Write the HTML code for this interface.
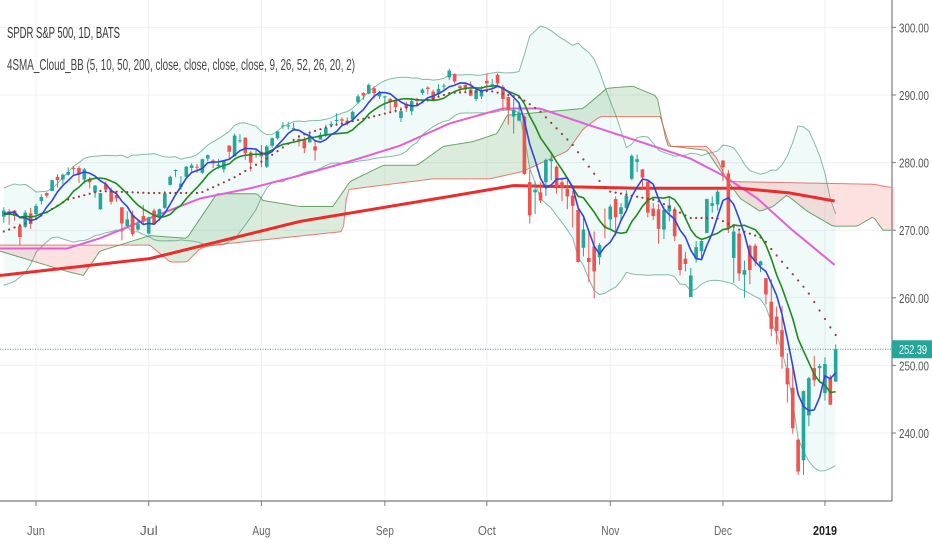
<!DOCTYPE html>
<html><head><meta charset="utf-8"><title>SPY 4SMA Cloud BB</title>
<style>
html,body{margin:0;padding:0;background:#fff;}
svg{display:block;font-family:"Liberation Sans",sans-serif;}
</style></head>
<body>
<svg id="chart" width="932" height="550" viewBox="0 0 932 550" xmlns="http://www.w3.org/2000/svg">
<rect x="0" y="0" width="932" height="550" fill="#ffffff"/>
<g id="grid"></g>
<g id="bb"></g>
<g id="cloud"></g>
<g id="mas"></g>
<g id="candles"></g>
<g id="lines"></g>
<g id="axes"></g>
<text x="7" y="38" font-size="16" fill="#333" textLength="113" lengthAdjust="spacingAndGlyphs">SPDR S&amp;P 500, 1D, BATS</text>
<text x="7" y="70" font-size="16" fill="#444" textLength="348" lengthAdjust="spacingAndGlyphs">4SMA_Cloud_BB (5, 10, 50, 200, close, close, close, close, 9, 26, 52, 26, 20, 2)</text>
</svg>
<script>
const warmupCloses=[263.6,266.3,266.6,264.5,265.0,263.2,262.6,266.0,266.9,266.9,269.5,272.0,272.85,272.98,271.1,272.2,272.0,271.3,273.4,272.6];
const closes=[272.9,272.6,272.1,269.0,272.6,270.9,
273.6,274.9,275.1,277.4,277.4,278.2,278.6,279.1,278.3,279.0,277.1,276.6,275.5,276.0,274.2,274.7,271.0,271.6,269.4,270.9,271.3,
271.9,270.9,273.1,275.4,277.9,278.9,276.9,279.4,279.6,279.3,280.5,281.1,279.9,279.7,280.2,281.6,284.0,283.3,281.4,280.0,281.3,
280.9,282.4,283.6,284.6,285.5,285.5,285.1,283.2,282.1,283.9,281.8,284.1,285.1,285.7,286.3,286.2,285.8,287.5,289.8,289.9,291.5,290.3,290.3,
289.8,289.0,288.2,287.6,288.1,289.1,289.1,290.8,290.9,289.3,290.9,291.4,293.6,292.0,291.0,290.8,289.9,290.7,290.7,
291.7,291.6,291.7,289.4,287.8,287.8,287.4,278.3,272.2,276.0,274.4,280.4,280.5,276.4,276.3,275.0,273.6,265.3,270.1,265.3,263.9,267.8,270.6,
273.5,271.9,273.4,275.1,281.0,280.5,277.8,272.6,272.1,270.2,273.0,273.7,269.1,264.1,265.0,263.3,267.5,268.4,274.6,274.0,275.7,
279.3,270.3,269.8,263.6,264.1,264.1,265.4,265.4,260.5,255.4,255.1,251.3,247.2,240.7,234.3,246.2,248.1,247.8,249.9,
250.2,244.2,252.4];
const opens=[272.0,272.8,272.9,270.6,270.5,272.5,
272.4,274.3,275.5,275.8,277.9,277.5,278.2,279.2,279.2,277.5,277.6,275.6,273.1,276.8,275.9,275.2,273.4,270.6,272.3,270.1,272.1,
269.5,272.9,271.9,273.3,276.7,278.8,276.4,277.9,279.2,279.4,278.5,280.6,280.3,279.5,279.0,282.5,280.9,283.2,283.7,281.5,281.3,
281.6,279.4,282.5,283.6,285.4,285.4,285.1,283.5,283.5,283.0,282.4,283.4,284.0,285.7,286.3,286.4,286.2,286.4,288.9,290.3,290.2,291.0,289.8,
289.8,289.4,289.2,286.6,288.7,287.6,289.4,290.3,291.1,290.5,290.1,291.3,292.6,293.1,291.3,291.5,290.8,289.4,289.8,
292.1,291.6,293.0,291.2,289.7,286.8,286.2,286.8,277.1,275.6,275.6,277.1,280.2,279.4,277.1,276.1,275.1,273.0,267.4,265.9,267.6,266.0,270.7,
271.6,274.6,272.4,273.3,277.6,280.1,279.0,277.2,273.2,273.1,270.1,272.8,273.0,267.9,265.8,260.1,265.8,266.9,269.6,273.6,273.8,
280.3,278.4,265.9,269.5,263.4,267.7,267.7,264.8,262.9,259.4,257.2,255.2,249.6,246.7,239.0,235.97,242.6,249.6,249.6,
245.9,248.2,247.6];
const highs=[273.4,273.1,273.0,271.0,273.0,273.3,
273.9,275.3,275.6,277.5,278.3,278.4,279.3,279.5,279.5,279.2,277.9,276.7,275.5,277.2,276.3,275.6,273.4,272.8,272.9,271.6,273.7,
272.0,273.2,273.2,275.8,278.1,279.0,278.0,279.5,279.9,279.8,280.6,281.2,280.5,280.5,280.4,282.6,284.3,284.2,283.7,281.7,282.0,
282.6,282.6,283.7,284.7,286.0,286.0,285.9,284.0,283.8,284.6,283.4,284.5,285.6,286.1,287.3,286.7,286.7,287.7,290.1,290.4,291.7,291.3,290.6,
289.9,289.6,289.3,288.2,289.0,289.6,289.6,291.0,291.3,290.8,291.6,291.7,293.9,293.2,291.5,291.6,292.0,291.2,291.3,
293.2,292.4,293.2,291.5,289.8,289.4,288.9,287.0,278.9,277.2,277.1,280.6,281.2,279.6,277.8,277.4,275.8,273.8,271.8,270.0,269.8,268.1,273.2,
273.8,275.0,274.0,275.9,281.2,281.2,279.0,277.2,274.0,273.9,273.5,275.0,273.4,267.8,266.8,264.4,268.4,268.5,274.7,275.0,276.1,
280.4,278.9,270.6,269.9,265.5,267.9,268.0,265.5,262.9,262.7,258.7,258.8,251.8,249.9,239.2,246.3,248.3,251.4,250.2,
251.2,248.6,253.1];
const lows=[271.1,270.8,271.4,267.8,270.3,270.2,
271.7,273.8,274.8,275.8,276.3,276.8,278.1,278.3,277.0,276.9,276.2,274.8,273.0,275.8,273.8,274.2,268.5,270.3,269.1,269.9,270.9,
269.4,270.9,271.4,273.1,276.6,277.9,276.0,277.9,278.7,278.5,278.3,280.2,279.2,279.1,278.5,280.6,280.9,282.9,280.4,278.7,280.7,
279.3,279.2,282.2,283.4,285.0,284.9,284.9,282.4,281.4,283.0,280.3,283.4,283.8,285.2,285.6,285.6,285.5,286.3,288.7,289.3,290.1,289.5,289.4,
287.8,287.6,287.4,286.0,287.5,287.0,288.4,290.0,290.1,289.3,289.8,290.8,292.2,291.7,290.4,290.5,289.8,289.1,289.4,
290.6,290.9,291.4,287.7,285.6,284.3,286.1,278.2,271.0,272.4,274.0,275.1,277.4,275.4,274.3,273.1,270.4,265.2,266.1,262.3,259.9,264.9,268.8,
270.3,269.2,271.4,272.9,277.4,278.6,276.1,271.9,271.5,268.0,268.7,271.3,268.4,263.3,263.9,263.0,265.2,265.9,269.6,272.6,272.9,
277.3,269.6,262.2,262.5,260.0,262.0,264.7,263.8,259.0,254.3,253.1,249.5,244.5,239.9,233.8,233.8,241.0,246.9,247.4,
244.8,244.1,247.6];
// Ichimoku cloud spans (bar index, price)
const spanAIdx=[-0.7,11.8,14.8,17.9,27.2,34.1,39.7,47.2,48.3,55.2,61.3,64.5,70.7,77,81.9,87.4,91.9,93.8,107.9,112.4,117.2,121.7,123.6,131,132.9,137.2,140.9,143.3,145.9,149.7,154.5,159,162,163.8,165.5];
const spanAVals=[266.9,263.9,263.3,266.9,269.2,268.8,275.4,275.4,274.4,273.5,273.5,277.2,279.6,279.6,282.4,283.1,284.3,287,288,291,291.3,289.8,282.5,281.8,279.5,274.7,272.8,273.5,275.2,272.8,270.6,270.6,272,270,270];
const spanBIdx=[-0.7,27.2,31,34.1,36.6,39,63.2,64,80,90.6,96.7,105,108,111.1,122.3,124.1,131,132.9,134.8,162,165.5];
const spanBVals=[267.8,267.8,265.3,265.3,267.3,267.8,269.8,276,277.6,277.6,278.7,281.7,285,286.8,286.8,282.4,282.4,280.6,277.2,276.8,276.3];
// SMA50 / SMA200
const ma50Idx=[-0.7,11.8,17.9,27.2,36.6,45.9,55.2,64.5,73.8,83.1,93,99.9,109.2,118.5,127.9,134,140.4,146.5,154.9];
const ma50Vals=[267.3,267.3,268.8,271.8,274.7,276.2,278.1,280.2,282.5,285.8,288,288,285.5,283.1,280.6,278.1,274.7,270.3,264.8];
const ma200Idx=[-0.7,27.2,55.2,83.1,94.9,118.5,137.2,146.5,154.9];
const ma200Vals=[263.3,265.8,271.3,275,276.6,276.2,276.2,275.5,274.3];
// dotted base line
const kijunIdx=[-0.7,5.4,11.8,17.9,27.2,36.6,42.7,49.0,55.2,61.3,67.7,73.8,83.1,90.6,96.2,99.9,106,112.4,121.7,127.9,132.9,137.2,141.5,143.3,149.7,154.9];
const kijunVals=[269.6,271.4,274.5,275.8,275.5,275.5,277.7,280.6,284,285.5,286.6,287.8,290.3,290.6,289.6,287.6,282.6,275.8,274.4,271.8,271.8,270,268.8,266.9,261,254.5];
const priceTicks=[300,290,280,270,260,250,240];
const monthLabels=["Jun","Jul","Aug","Sep","Oct","Nov","Dec","2019"];
const monthIdx=[6,27,48,71,90,113,134,153];
const lastPrice=252.39;

const NS="http://www.w3.org/2000/svg";
const X0=3.8,DX=5.367,PLOT_R=892,PLOT_B=501;
function xs(i){return X0+i*DX;}
function ys(p){return 433-(p-240)*6.76;}
function mk(tag,attrs,parent){const e=document.createElementNS(NS,tag);for(const k in attrs)e.setAttribute(k,attrs[k]);parent.appendChild(e);return e;}
function interp(idx,vals,t){if(t<=idx[0])return vals[0];for(let k=1;k<idx.length;k++){if(t<=idx[k]){const f=(t-idx[k-1])/(idx[k]-idx[k-1]);return vals[k-1]+f*(vals[k]-vals[k-1]);}}return vals[vals.length-1];}
const G=id=>document.getElementById(id);

// grid
const grid=G('grid');
priceTicks.forEach(p=>{const l=mk('line',{x1:0,x2:PLOT_R,y1:ys(p),y2:ys(p),stroke:'#eef0f4','stroke-width':1},grid);

});
monthIdx.forEach(i=>{const l=mk('line',{x1:xs(i),x2:xs(i),y1:0,y2:PLOT_B,stroke:'#eef0f4','stroke-width':1},grid);

});

// Bollinger + SMA computations
const all=warmupCloses.concat(closes);const W=warmupCloses.length;
function sma(n,j){let s=0,c=0;for(let k=Math.max(0,j-n+1);k<=j;k++){s+=all[k];c++;}return s/c;}
const up=[],lo=[],s5=[],s10=[];
for(let i=0;i<closes.length;i++){const j=i+W;const m=sma(20,j);let v=0;for(let k=j-19;k<=j;k++)v+=(all[k]-m)**2;const sd=Math.sqrt(v/20);
up.push(m+2*sd);lo.push(m-2*sd);s5.push(sma(5,j));s10.push(sma(10,j));}
const bb=G('bb');
let bpoly='';for(let i=0;i<up.length;i++)bpoly+=xs(i)+','+ys(up[i])+' ';for(let i=lo.length-1;i>=0;i--)bpoly+=xs(i)+','+ys(lo[i])+' ';
const bf=mk('polygon',{points:bpoly,fill:'rgba(0,170,150,0.06)'},bb);


const bu=mk('polyline',{points:up.map((v,i)=>xs(i)+','+ys(v)).join(' '),fill:'none',stroke:'rgba(40,130,100,0.55)','stroke-width':1},bb);


const bl=mk('polyline',{points:lo.map((v,i)=>xs(i)+','+ys(v)).join(' '),fill:'none',stroke:'rgba(40,130,100,0.55)','stroke-width':1},bb);



// cloud
const cl=G('cloud');
const step=0.5;
for(let t=-1;t<166;t+=step){const a0=interp(spanAIdx,spanAVals,t),a1=interp(spanAIdx,spanAVals,t+step),b0=interp(spanBIdx,spanBVals,t),b1=interp(spanBIdx,spanBVals,t+step);
const q=mk('polygon',{points:`${xs(t)},${ys(a0)} ${xs(t+step)},${ys(a1)} ${xs(t+step)},${ys(b1)} ${xs(t)},${ys(b0)}`,fill:(a0+a1>=b0+b1)?'rgba(76,160,80,0.2)':'rgba(240,80,70,0.17)',stroke:'none'},cl);

}
function sampledLine(idx,vals,parent,color,w,name){let pts=[];for(let t=idx[0];t<=idx[idx.length-1]+0.001;t+=0.5)pts.push(xs(t)+','+ys(interp(idx,vals,t)));
const l=mk('polyline',{points:pts.join(' '),fill:'none',stroke:color,'stroke-width':w,'stroke-linejoin':'round'},parent);

}
sampledLine(spanAIdx,spanAVals,cl,'rgba(60,140,60,0.75)',1,'cloud-span-a');
sampledLine(spanBIdx,spanBVals,cl,'rgba(230,80,70,0.75)',1,'cloud-span-b');

// long MAs
const mas=G('mas');
sampledLine(ma50Idx,ma50Vals,mas,'#e45fd4',2,'sma-50-line');
sampledLine(ma200Idx,ma200Vals,mas,'#ee2a2a',3,'sma-200-line');

// kijun dotted, one dot per bar
const ln=G('lines');
for(let i=0;i<closes.length;i++){const v=interp(kijunIdx,kijunVals,i);
const d=mk('circle',{cx:xs(i),cy:ys(v),r:1.1,fill:'#9c3a3a'},ln);

}

// candles
const cg=G('candles');
for(let i=0;i<closes.length;i++){const o=opens[i],c=closes[i],upC=c>=o;const col=upC?'#26a69a':'#ef5350';
const w=mk('line',{x1:xs(i),x2:xs(i),y1:ys(highs[i]),y2:ys(lows[i]),stroke:col,'stroke-width':1},cg);


const top=ys(Math.max(o,c)),bot=ys(Math.min(o,c));
const b=mk('rect',{x:xs(i)-1.8,y:top,width:3.6,height:Math.max(1,bot-top),fill:col},cg);

}

// short SMAs on top
const p10=mk('polyline',{points:s10.map((v,i)=>xs(i)+','+ys(v)).join(' '),fill:'none',stroke:'#1e8a1e','stroke-width':1.6},ln);


const p5=mk('polyline',{points:s5.map((v,i)=>xs(i)+','+ys(v)).join(' '),fill:'none',stroke:'#3344dd','stroke-width':1.6},ln);



// axes
const ax=G('axes');
const lp=mk('line',{x1:0,x2:PLOT_R,y1:ys(lastPrice),y2:ys(lastPrice),stroke:'#26a69a','stroke-width':1,'stroke-dasharray':'1,1.5'},ax);


const va=mk('line',{x1:PLOT_R,x2:PLOT_R,y1:0,y2:PLOT_B,stroke:'#7a7a7a','stroke-width':1.2},ax);


const ha=mk('line',{x1:0,x2:PLOT_R,y1:PLOT_B,y2:PLOT_B,stroke:'#7a7a7a','stroke-width':1.2},ax);


priceTicks.forEach(p=>{const tk=mk('line',{x1:PLOT_R,x2:PLOT_R+4,y1:ys(p),y2:ys(p),stroke:'#7a7a7a'},ax);


const t=mk('text',{x:899,y:ys(p)+5,'font-size':13,fill:'#555',textLength:30,lengthAdjust:'spacingAndGlyphs'},ax);t.textContent=p.toFixed(2);

});
monthIdx.forEach((i,k)=>{const tk=mk('line',{x1:xs(i),x2:xs(i),y1:PLOT_B,y2:PLOT_B+5,stroke:'#7a7a7a'},ax);


const lab=monthLabels[k];const t=mk('text',{x:xs(i),y:535,'font-size':13,fill:lab==='2019'?'#222':'#666','font-weight':lab==='2019'?'bold':'normal','text-anchor':'middle',textLength:lab.length*6,lengthAdjust:'spacingAndGlyphs'},ax);t.textContent=lab;

});
const badge=mk('rect',{x:PLOT_R,y:ys(lastPrice)-9,width:40,height:18,fill:'#26a69a'},ax);


const bt=mk('text',{x:899,y:ys(lastPrice)+5,'font-size':13,fill:'#fff',textLength:28,lengthAdjust:'spacingAndGlyphs'},ax);bt.textContent=lastPrice.toFixed(2);


</script>
</body></html>
